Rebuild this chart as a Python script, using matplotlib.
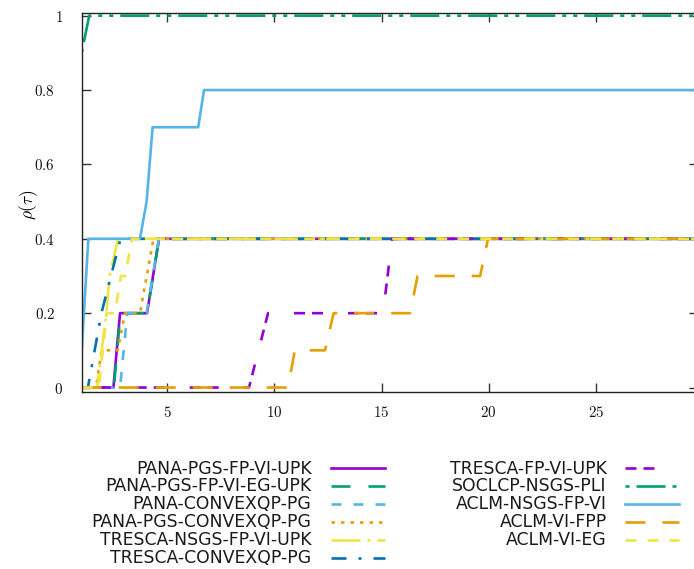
import matplotlib
matplotlib.use('Agg')
import matplotlib.pyplot as plt
from matplotlib.lines import Line2D
from matplotlib.transforms import ScaledTranslation

plt.rcParams['mathtext.fontset'] = 'cm'
plt.rcParams['font.family'] = ['DejaVu Sans']

W, H, DPI = 694, 569, 100

# ---------------- data ----------------
labels = ["PANA-PGS-FP-VI-UPK", "PANA-PGS-FP-VI-EG-UPK", "PANA-CONVEXQP-PG",
          "PANA-PGS-CONVEXQP-PG", "TRESCA-NSGS-FP-VI-UPK", "TRESCA-CONVEXQP-PG",
          "TRESCA-FP-VI-UPK", "SOCLCP-NSGS-PLI", "ACLM-NSGS-FP-VI",
          "ACLM-VI-FPP", "ACLM-VI-EG"]

tau_1 = [1, 2.48, 2.79, 4.05, 4.61, 30]
rho_1 = [0, 0, 0.2, 0.2, 0.4, 0.4]
tau_2 = [1, 2.50, 2.81, 4.05, 4.61, 30]
rho_2 = [0, 0, 0.2, 0.2, 0.4, 0.4]
tau_3 = [1, 2.79, 3.13, 4.03, 4.60, 30]
rho_3 = [0, 0, 0.2, 0.2, 0.4, 0.4]
tau_4 = [1, 1.67, 1.93, 2.68, 3.02, 3.72, 4.35, 30]
rho_4 = [0, 0, 0.1, 0.1, 0.2, 0.2, 0.4, 0.4]
tau_5 = [1, 1.72, 2.15, 2.30, 2.70, 30]
rho_5 = [0, 0, 0.2, 0.3, 0.4, 0.4]
tau_6 = [1, 1.29, 1.92, 2.81, 30]
rho_6 = [0, 0, 0.2, 0.4, 0.4]
tau_7 = [1, 8.81, 9.70, 15.07, 15.49, 30]
rho_7 = [0, 0, 0.2, 0.2, 0.4, 0.4]
tau_8 = [1, 1.35, 30]
rho_8 = [0.9, 1.0, 1.0]
tau_9 = [1, 1.31, 3.72, 4.03, 4.31, 6.44, 6.71, 30]
rho_9 = [0.1, 0.4, 0.4, 0.5, 0.7, 0.7, 0.8, 0.8]
tau_10 = [1, 10.63, 10.95, 12.36, 12.76, 16.33, 16.68, 19.60, 19.97, 30]
rho_10 = [0, 0, 0.1, 0.1, 0.2, 0.2, 0.3, 0.3, 0.4, 0.4]
tau_11 = [1, 1.80, 2.17, 2.55, 2.83, 3.03, 3.35, 30]
rho_11 = [0, 0, 0.2, 0.2, 0.3, 0.3, 0.4, 0.4]

xticks = [5, 10, 15, 20, 25]
yticks = [0, 0.2, 0.4, 0.6, 0.8, 1]
ytick_labels = ["0", "0.2", "0.4", "0.6", "0.8", "1"]

taus = [tau_1, tau_2, tau_3, tau_4, tau_5, tau_6, tau_7, tau_8, tau_9, tau_10, tau_11]
rhos = [rho_1, rho_2, rho_3, rho_4, rho_5, rho_6, rho_7, rho_8, rho_9, rho_10, rho_11]

# ---------------- styles ----------------
LW = 1.9
LWPX = LW * DPI / 72.0

def dash(px, offset=0):
    if px is None:
        return '-'
    return (offset / LWPX, tuple(p / LWPX for p in px))

c_pur, c_grn, c_sky, c_org, c_yel, c_blu = '#9400D3', '#009E73', '#56B4E9', '#E69F00', '#F0E442', '#0072B2'
styles = [
    (c_pur, dash(None)),
    (c_grn, dash((19, 18))),
    (c_sky, dash((10, 12))),
    (c_org, dash((3.5, 6))),
    (c_yel, dash((29, 7, 3, 7))),
    (c_blu, dash((15, 12, 3, 12))),
    (c_pur, dash((11, 7, 11, 25))),
    (c_grn, dash((29, 7, 4, 7, 4, 7), offset=47)),
    (c_sky, dash(None)),
    (c_org, dash((20, 17))),
    (c_yel, dash((11, 11))),
]

fig = plt.figure(figsize=(W / DPI, H / DPI), dpi=DPI)
ax_l, ax_r, ax_t, ax_b = 81.7, 698.0, 12.7, 392.0
ax = fig.add_axes([ax_l / W, 1 - ax_b / H, (ax_r - ax_l) / W, (ax_b - ax_t) / H])

for t, r, (c, ls) in zip(taus, rhos, styles):
    ax.plot(t, r, color=c, linestyle=ls, lw=LW)

ax.set_xlim(1, 1 + (ax_r - ax_l) / 21.42)
ax.set_ylim(-0.012, 1.008)

ax.set_xticks(xticks)
ax.set_xticklabels([f"${v}$" for v in xticks])
ax.set_yticks(yticks)
ax.set_yticklabels([f"${s}$" for s in ytick_labels])
ax.tick_params(direction='in', length=6.5, width=1.0, color='#333333',
               top=True, right=True, labelsize=10.8, labelcolor='#111111')
ax.tick_params(axis='x', pad=9.5)
ax.tick_params(axis='y', pad=13.5)
for lab, s in zip(ax.get_yticklabels(), ytick_labels):
    if '.' in s:
        lab.set_transform(lab.get_transform() + ScaledTranslation(-8.0 / DPI, 0, fig.dpi_scale_trans))
for sp in ax.spines.values():
    sp.set_linewidth(1.0)
    sp.set_color('#222222')

fig.text(29 / W, 1 - 205 / H, r"$\rho(\tau)$", rotation=90, ha='center', va='center', fontsize=12.5)

# ---------------- legend (gnuplot style: text right-aligned, sample to the right) ----------------
rows_y = [467.3, 485.2, 503.1, 521.0, 538.9, 556.8]
col_text_right = [311.5, 606.7]
col_sample = [(330.7, 385.0), (625.0, 679.0)]
for i, (lab, (c, ls)) in enumerate(zip(labels, styles)):
    col = 0 if i < 6 else 1
    row = i if i < 6 else i - 6
    yc = rows_y[row]
    fig.text(col_text_right[col] / W, 1 - (yc + 6.2) / H, lab, ha='right', va='baseline',
             fontsize=12.4, color='#1a1a1a')
    x0, x1 = col_sample[col]
    fig.add_artist(Line2D([x0 / W, x1 / W], [1 - (yc + 1) / H, 1 - (yc + 1) / H],
                          transform=fig.transFigure, color=c, linestyle=ls, lw=LW))

fig.savefig('out.png', dpi=DPI)
